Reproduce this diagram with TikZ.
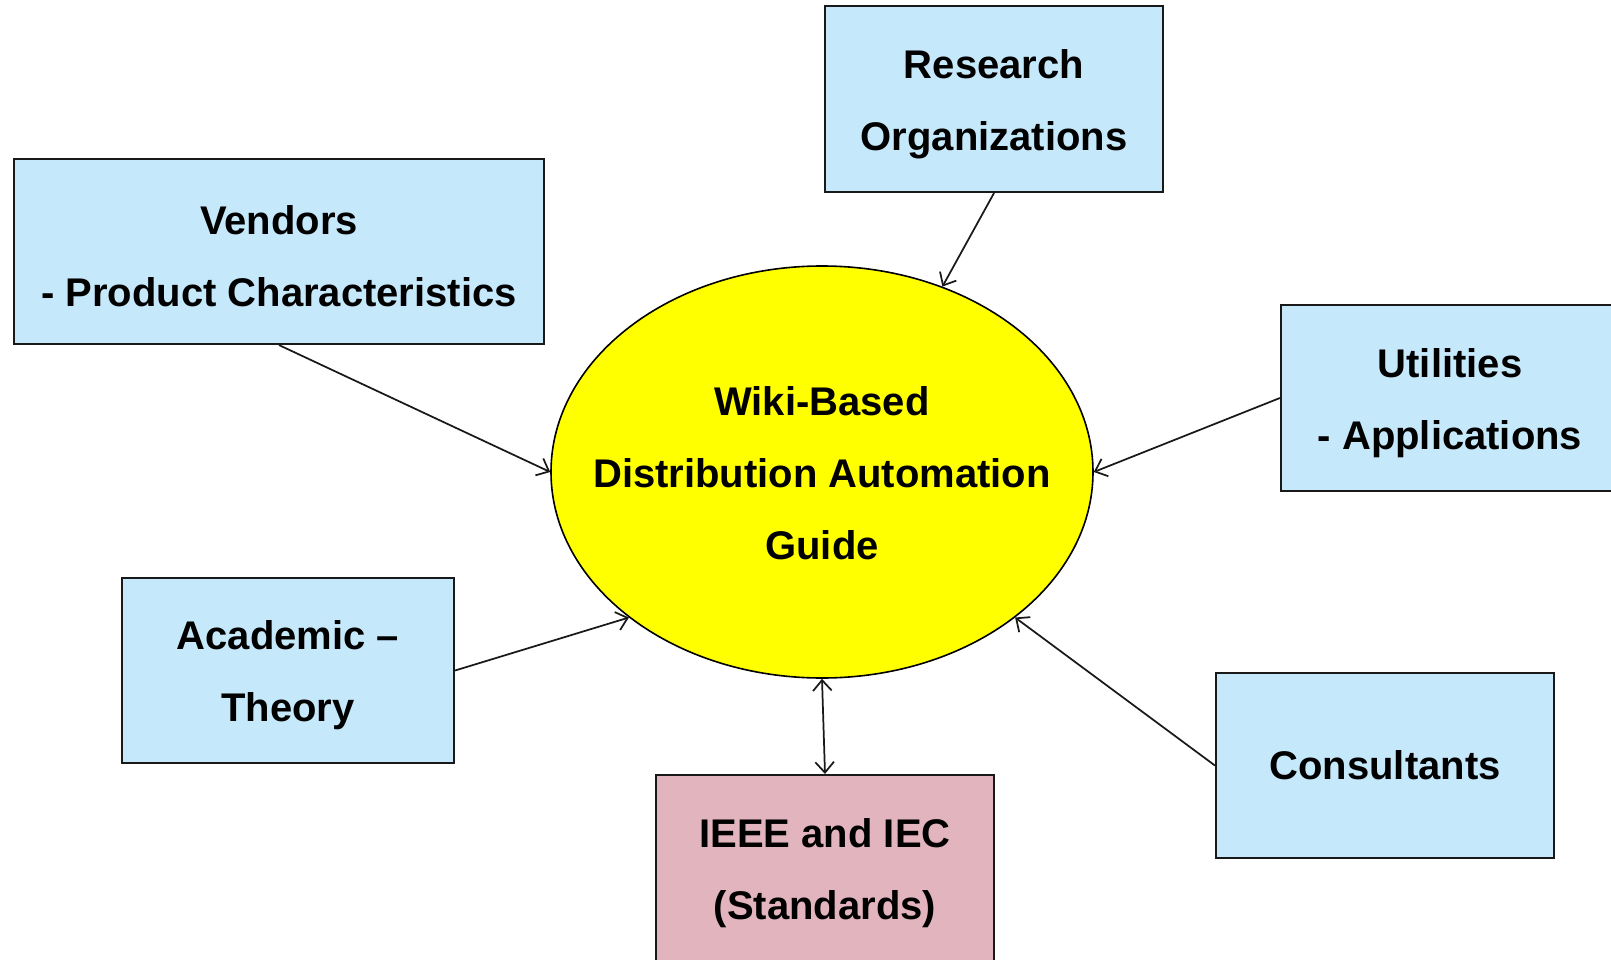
\documentclass[tikz,border=0pt]{standalone}
\usepackage{fontspec}
\setmainfont{Liberation Sans}
\usetikzlibrary{arrows.meta,shapes.geometric}
\definecolor{boxblue}{HTML}{C6E8FB}
\definecolor{boxpink}{HTML}{E2B4BE}
\definecolor{ovalyellow}{HTML}{FFFF00}
\newcommand{\lowstrut}{\rule{0pt}{29pt}}
\begin{document}
\begin{tikzpicture}[x=0.75pt,y=-0.75pt,
  txt/.style={font=\bfseries\fontsize{30}{54}\selectfont, align=center, text=black},
  srcbox/.style={txt, draw=black!90, line width=1.6pt, fill=boxblue, rectangle, inner sep=0pt},
  stdbox/.style={txt, draw=black!90, line width=1.6pt, fill=boxpink, rectangle, inner sep=0pt},
  hub/.style={draw=black, line width=1.2pt, fill=ovalyellow, ellipse, inner sep=0pt},
  link/.style={draw=black!90, line width=1.3pt, -{Straight Barb[length=8pt,width=14pt,line width=1.3pt]}},
  dlink/.style={draw=black!90, line width=1.3pt, {Straight Barb[length=8pt,width=14pt,line width=1.3pt]}-{Straight Barb[length=8pt,width=14pt,line width=1.3pt]}}
]
\useasboundingbox (0,0) rectangle (1611,960);
\clip (0,0) rectangle (1611,960);
\fill[white] (0,0) rectangle (1611,960);

\node[hub, minimum width=542*0.75pt, minimum height=412*0.75pt] (wiki) at (822,472) {};
\node[txt] (wikitext) at (822,473) {Wiki-Based\\Distribution Automation\\Guide};

\node[srcbox, minimum width=530*0.75pt, minimum height=185*0.75pt] (vendors) at (279,251.5)
  {\lowstrut Vendors\\- Product Characteristics};
\node[srcbox, minimum width=338*0.75pt, minimum height=186*0.75pt] (research) at (994,99)
  {\lowstrut Research\\Organizations};
\node[srcbox, minimum width=338*0.75pt, minimum height=186*0.75pt] (utilities) at (1450,398)
  {\lowstrut Utilities\\- Applications};
\node[srcbox, minimum width=332*0.75pt, minimum height=185*0.75pt] (academic) at (288,670.5)
  {\lowstrut Academic --\\Theory};
\node[srcbox, minimum width=338*0.75pt, minimum height=185*0.75pt] (consultants) at (1385,765.5)
  {Consultants};
\node[stdbox, minimum width=338*0.75pt, minimum height=186*0.75pt] (ieee) at (825,868)
  {\lowstrut IEEE and IEC\\(Standards)};

\draw[link] (vendors.south) -- (wiki.west);
\draw[link] (research.south) -- (wiki.57);
\draw[link] (utilities.west) -- (wiki.east);
\draw[link] (academic.east) -- (wiki.217);
\draw[link] (consultants.west) -- (wiki.323);
\draw[dlink] (wiki.south) -- (ieee.north);
\end{tikzpicture}
\end{document}
